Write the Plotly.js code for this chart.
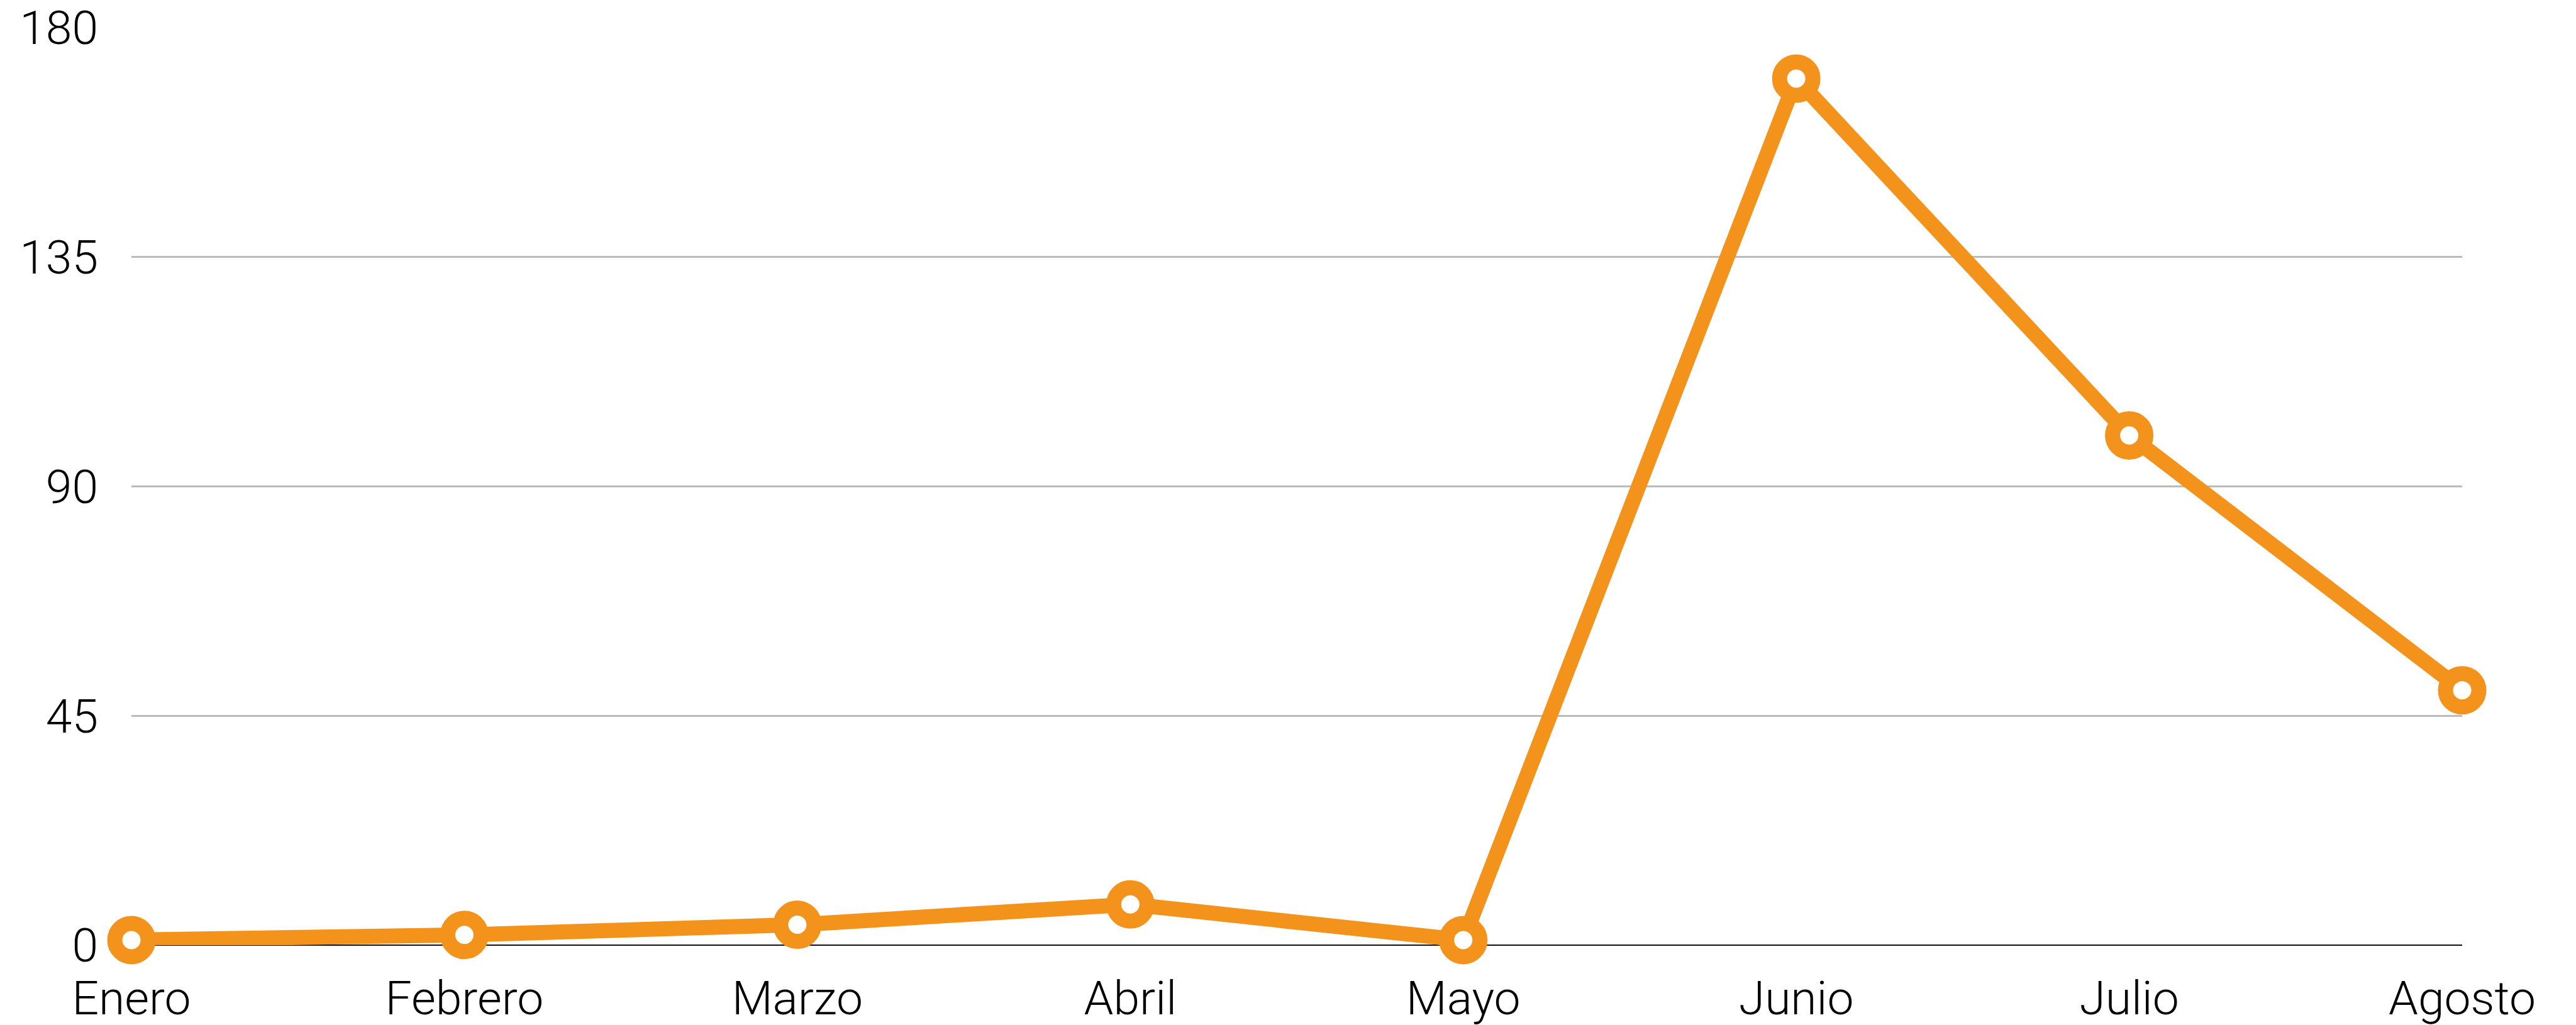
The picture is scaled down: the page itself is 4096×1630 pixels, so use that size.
<!DOCTYPE html>
<html>
<head>
<meta charset="utf-8">
<script src="https://cdn.plot.ly/plotly-3.0.1.min.js"></script>
<style>
html,body{margin:0;padding:0;background:#fff;}
#chart{width:4096px;height:1630px;}
</style>
</head>
<body>
<div id="chart"></div>
<script>
const months = ["Enero","Febrero","Marzo","Abril","Mayo","Junio","Julio","Agosto"];
const values = [1, 2, 4, 8, 1, 170, 100, 50];
const yTicks = [0, 45, 90, 135, 180];

const orange = "#F3931C";

const trace = {
  x: months,
  y: values,
  type: "scatter",
  mode: "lines+markers",
  line: {color: orange, width: 24},
  marker: {symbol: "circle", size: 53, color: "#ffffff", line: {color: orange, width: 24}},
  cliponaxis: false,
  hoverinfo: "skip"
};

const font = {family: "Roboto, 'Liberation Sans', sans-serif", size: 75, color: "#000", weight: 300};

const layout = {
  width: 4096,
  height: 1630,
  margin: {l: 209, r: 181, t: 44, b: 127, pad: 0},
  paper_bgcolor: "#fff",
  plot_bgcolor: "#fff",
  showlegend: false,
  xaxis: {
    type: "category",
    range: [0, 7],
    showgrid: false,
    zeroline: false,
    showline: false,
    ticks: "",
    tickfont: font,
    ticklabelstandoff: 34,
    fixedrange: true
  },
  yaxis: {
    range: [0, 180],
    tickvals: yTicks,
    ticktext: yTicks.map(String),
    showgrid: true,
    gridcolor: "#BBBBBB",
    gridwidth: 2.7,
    zeroline: true,
    zerolinecolor: "#111111",
    zerolinewidth: 2.7,
    showline: false,
    ticks: "",
    tickfont: font,
    ticklabelstandoff: 52,
    fixedrange: true
  }
};

Plotly.newPlot("chart", [trace], layout, {staticPlot: true, displayModeBar: false});
</script>
</body>
</html>
